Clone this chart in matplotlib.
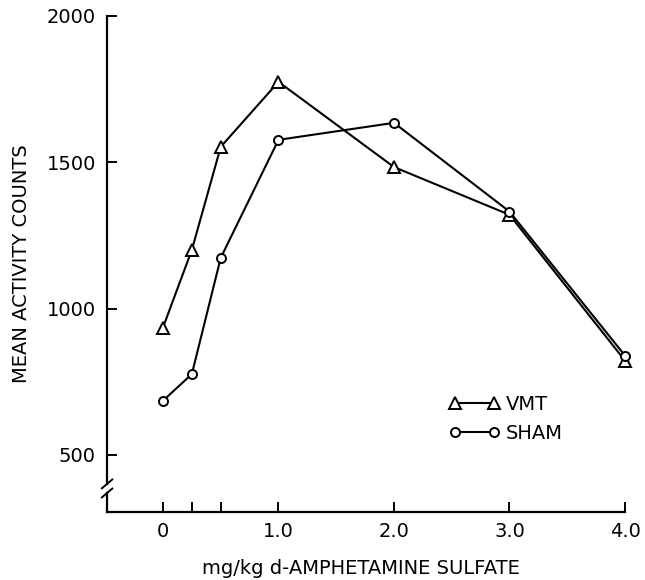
"""Mean activity counts vs d-amphetamine dose, VMT vs SHAM."""

import matplotlib

matplotlib.use("Agg")
import matplotlib.pyplot as plt  # noqa: E402

DOSES = [0, 0.25, 0.5, 1.0, 2.0, 3.0, 4.0]
VMT = [935, 1200, 1552, 1774, 1483, 1320, 822]
SHAM = [685, 776, 1173, 1576, 1634, 1331, 839]

X_TICKS = [0, 0.25, 0.5, 1.0, 2.0, 3.0, 4.0]
X_TICK_LABELS = ["0", "", "", "1.0", "2.0", "3.0", "4.0"]
Y_TICKS = [500, 1000, 1500, 2000]

FS = 14
X0 = -0.484

plt.rcParams["font.family"] = ["DejaVu Sans"]

fig = plt.figure(figsize=(6.45, 5.80), dpi=100)
ax = fig.add_axes([0.166, 0.1172, 0.803, 0.8558])

line_kw = dict(color="black", linewidth=1.5, markerfacecolor="white",
               markeredgecolor="black", markeredgewidth=1.4, clip_on=False, zorder=3)
ax.plot(DOSES, VMT, marker="^", markersize=8, label="VMT", **line_kw)
ax.plot(DOSES, SHAM, marker="o", markersize=6.5, label="SHAM", **line_kw)

ax.set_xlim(X0, 4.0)
ax.set_ylim(305, 2000)
ax.set_xticks(X_TICKS)
ax.set_xticklabels(X_TICK_LABELS)
ax.set_yticks(Y_TICKS)
ax.tick_params(direction="in", length=7, width=1.4, labelsize=FS)
ax.tick_params(axis="x", pad=7)
ax.tick_params(axis="y", pad=8)

for side in ("top", "right"):
    ax.spines[side].set_visible(False)
for side in ("left", "bottom"):
    ax.spines[side].set_linewidth(1.6)

# axis break on the y axis
ax.spines["left"].set_bounds(401, 2000)
ax.plot([X0, X0], [305, 370], color="black", linewidth=1.6,
        clip_on=False, zorder=4)
for yb in (401, 370):
    ax.plot([X0 - 0.045, X0 + 0.045], [yb - 15, yb + 15], color="black",
            linewidth=1.4, clip_on=False, zorder=4)

ax.set_xlabel("mg/kg d-AMPHETAMINE SULFATE", fontsize=FS, labelpad=12)
ax.xaxis.set_label_coords(0.491, -0.095)
ax.set_ylabel("MEAN ACTIVITY COUNTS", fontsize=FS, labelpad=11)

ax.legend(loc="upper left", bbox_to_anchor=(0.696, 0.319),
          bbox_transform=fig.transFigure, frameon=False, numpoints=2,
          handlelength=2.6, handletextpad=0.32, labelspacing=0.5,
          borderpad=0, borderaxespad=0, fontsize=FS)

fig.savefig("out.png", dpi=100)
